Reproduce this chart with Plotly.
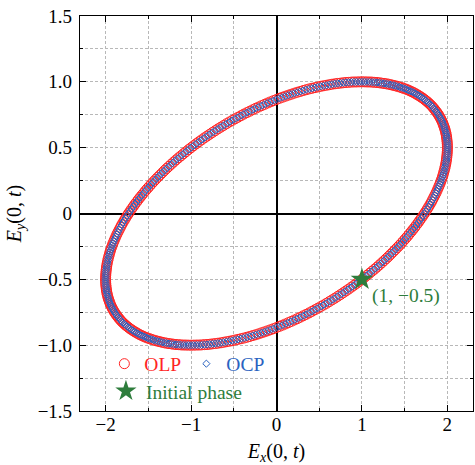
import plotly.graph_objects as go

ex_vals = [
    2.000, 2.000, 1.999, 1.997, 1.995, 1.992, 1.989, 1.985, 1.981, 1.975,
    1.970, 1.963, 1.956, 1.949, 1.941, 1.932, 1.923, 1.913, 1.902, 1.891,
    1.879, 1.867, 1.854, 1.841, 1.827, 1.813, 1.798, 1.782, 1.766, 1.749,
    1.732, 1.714, 1.696, 1.677, 1.658, 1.638, 1.618, 1.597, 1.576, 1.554,
    1.532, 1.509, 1.486, 1.463, 1.439, 1.414, 1.389, 1.364, 1.338, 1.312,
    1.286, 1.259, 1.231, 1.204, 1.176, 1.147, 1.118, 1.089, 1.060, 1.030,
    1.000, 0.970, 0.939, 0.908, 0.877, 0.845, 0.813, 0.781, 0.749, 0.717,
    0.684, 0.651, 0.618, 0.585, 0.551, 0.518, 0.484, 0.450, 0.416, 0.382,
    0.347, 0.313, 0.278, 0.244, 0.209, 0.174, 0.140, 0.105, 0.070, 0.035,
    0.000,
    -0.035, -0.070, -0.105, -0.140, -0.174, -0.209, -0.244, -0.278, -0.313, -0.347,
    -0.382, -0.416, -0.450, -0.484, -0.518, -0.551, -0.585, -0.618, -0.651, -0.684,
    -0.717, -0.749, -0.781, -0.813, -0.845, -0.877, -0.908, -0.939, -0.970, -1.000,
    -1.030, -1.060, -1.089, -1.118, -1.147, -1.176, -1.204, -1.231, -1.259, -1.286,
    -1.312, -1.338, -1.364, -1.389, -1.414, -1.439, -1.463, -1.486, -1.509, -1.532,
    -1.554, -1.576, -1.597, -1.618, -1.638, -1.658, -1.677, -1.696, -1.714, -1.732,
    -1.749, -1.766, -1.782, -1.798, -1.813, -1.827, -1.841, -1.854, -1.867, -1.879,
    -1.891, -1.902, -1.913, -1.923, -1.932, -1.941, -1.949, -1.956, -1.963, -1.970,
    -1.975, -1.981, -1.985, -1.989, -1.992, -1.995, -1.997, -1.999, -2.000, -2.000,
    -2.000, -1.999, -1.997, -1.995, -1.992, -1.989, -1.985, -1.981, -1.975, -1.970,
    -1.963, -1.956, -1.949, -1.941, -1.932, -1.923, -1.913, -1.902, -1.891, -1.879,
    -1.867, -1.854, -1.841, -1.827, -1.813, -1.798, -1.782, -1.766, -1.749, -1.732,
    -1.714, -1.696, -1.677, -1.658, -1.638, -1.618, -1.597, -1.576, -1.554, -1.532,
    -1.509, -1.486, -1.463, -1.439, -1.414, -1.389, -1.364, -1.338, -1.312, -1.286,
    -1.259, -1.231, -1.204, -1.176, -1.147, -1.118, -1.089, -1.060, -1.030, -1.000,
    -0.970, -0.939, -0.908, -0.877, -0.845, -0.813, -0.781, -0.749, -0.717, -0.684,
    -0.651, -0.618, -0.585, -0.551, -0.518, -0.484, -0.450, -0.416, -0.382, -0.347,
    -0.313, -0.278, -0.244, -0.209, -0.174, -0.140, -0.105, -0.070, -0.035, 0.000,
    0.035, 0.070, 0.105, 0.140, 0.174, 0.209, 0.244, 0.278, 0.313, 0.347,
    0.382, 0.416, 0.450, 0.484, 0.518, 0.551, 0.585, 0.618, 0.651, 0.684,
    0.717, 0.749, 0.781, 0.813, 0.845, 0.877, 0.908, 0.939, 0.970, 1.000,
    1.030, 1.060, 1.089, 1.118, 1.147, 1.176, 1.204, 1.231, 1.259, 1.286,
    1.312, 1.338, 1.364, 1.389, 1.414, 1.439, 1.463, 1.486, 1.509, 1.532,
    1.554, 1.576, 1.597, 1.618, 1.638, 1.658, 1.677, 1.696, 1.714, 1.732,
    1.749, 1.766, 1.782, 1.798, 1.813, 1.827, 1.841, 1.854, 1.867, 1.879,
    1.891, 1.902, 1.913, 1.923, 1.932, 1.941, 1.949, 1.956, 1.963, 1.970,
    1.975, 1.981, 1.985, 1.989, 1.992, 1.995, 1.997, 1.999, 2.000,
]

ey_vals = [
    0.500, 0.515, 0.530, 0.545, 0.559, 0.574, 0.588, 0.602, 0.616, 0.629,
    0.643, 0.656, 0.669, 0.682, 0.695, 0.707, 0.719, 0.731, 0.743, 0.755,
    0.766, 0.777, 0.788, 0.799, 0.809, 0.819, 0.829, 0.839, 0.848, 0.857,
    0.866, 0.875, 0.883, 0.891, 0.899, 0.906, 0.914, 0.921, 0.927, 0.934,
    0.940, 0.946, 0.951, 0.956, 0.961, 0.966, 0.970, 0.974, 0.978, 0.982,
    0.985, 0.988, 0.990, 0.993, 0.995, 0.996, 0.998, 0.999, 0.999, 1.000,
    1.000, 1.000, 0.999, 0.999, 0.998, 0.996, 0.995, 0.993, 0.990, 0.988,
    0.985, 0.982, 0.978, 0.974, 0.970, 0.966, 0.961, 0.956, 0.951, 0.946,
    0.940, 0.934, 0.927, 0.921, 0.914, 0.906, 0.899, 0.891, 0.883, 0.875,
    0.866, 0.857, 0.848, 0.839, 0.829, 0.819, 0.809, 0.799, 0.788, 0.777,
    0.766, 0.755, 0.743, 0.731, 0.719, 0.707, 0.695, 0.682, 0.669, 0.656,
    0.643, 0.629, 0.616, 0.602, 0.588, 0.574, 0.559, 0.545, 0.530, 0.515,
    0.500, 0.485, 0.469, 0.454, 0.438, 0.423, 0.407, 0.391, 0.375, 0.358,
    0.342, 0.326, 0.309, 0.292, 0.276, 0.259, 0.242, 0.225, 0.208, 0.191,
    0.174, 0.156, 0.139, 0.122, 0.105, 0.087, 0.070, 0.052, 0.035, 0.017,
    0.000,
    -0.017, -0.035, -0.052, -0.070, -0.087, -0.105, -0.122, -0.139, -0.156,
    -0.174, -0.191, -0.208, -0.225, -0.242, -0.259, -0.276, -0.292, -0.309, -0.326,
    -0.342, -0.358, -0.375, -0.391, -0.407, -0.423, -0.438, -0.454, -0.469, -0.485,
    -0.500, -0.515, -0.530, -0.545, -0.559, -0.574, -0.588, -0.602, -0.616, -0.629,
    -0.643, -0.656, -0.669, -0.682, -0.695, -0.707, -0.719, -0.731, -0.743, -0.755,
    -0.766, -0.777, -0.788, -0.799, -0.809, -0.819, -0.829, -0.839, -0.848, -0.857,
    -0.866, -0.875, -0.883, -0.891, -0.899, -0.906, -0.914, -0.921, -0.927, -0.934,
    -0.940, -0.946, -0.951, -0.956, -0.961, -0.966, -0.970, -0.974, -0.978, -0.982,
    -0.985, -0.988, -0.990, -0.993, -0.995, -0.996, -0.998, -0.999, -0.999, -1.000,
    -1.000,
    -1.000, -0.999, -0.999, -0.998, -0.996, -0.995, -0.993, -0.990, -0.988,
    -0.985, -0.982, -0.978, -0.974, -0.970, -0.966, -0.961, -0.956, -0.951, -0.946,
    -0.940, -0.934, -0.927, -0.921, -0.914, -0.906, -0.899, -0.891, -0.883, -0.875,
    -0.866, -0.857, -0.848, -0.839, -0.829, -0.819, -0.809, -0.799, -0.788, -0.777,
    -0.766, -0.755, -0.743, -0.731, -0.719, -0.707, -0.695, -0.682, -0.669, -0.656,
    -0.643, -0.629, -0.616, -0.602, -0.588, -0.574, -0.559, -0.545, -0.530, -0.515,
    -0.500, -0.485, -0.469, -0.454, -0.438, -0.423, -0.407, -0.391, -0.375, -0.358,
    -0.342, -0.326, -0.309, -0.292, -0.276, -0.259, -0.242, -0.225, -0.208, -0.191,
    -0.174, -0.156, -0.139, -0.122, -0.105, -0.087, -0.070, -0.052, -0.035, -0.017,
    0.000,
    0.017, 0.035, 0.052, 0.070, 0.087, 0.105, 0.122, 0.139, 0.156,
    0.174, 0.191, 0.208, 0.225, 0.242, 0.259, 0.276, 0.292, 0.309, 0.326,
    0.342, 0.358, 0.375, 0.391, 0.407, 0.423, 0.438, 0.454, 0.469, 0.485,
]

init_x = [1.0]
init_y = [-0.5]
init_label = "(1, \u22120.5)"

x_tickvals = [-2, -1, 0, 1, 2]
x_ticktext = ["\u22122", "\u22121", "0", "1", "2"]
y_tickvals = [-1.5, -1.0, -0.5, 0, 0.5, 1.0, 1.5]
y_ticktext = ["\u22121.5", "\u22121.0", "\u22120.5", "0", "0.5", "1.0", "1.5"]

RED = "#ff2424"
BLUE = "#2a62c0"
GREEN = "#2e7d3c"
FONT = "Liberation Serif"

fig = go.Figure()
fig.add_trace(go.Scatter(
    x=ex_vals, y=ey_vals, mode="markers",
    name=f"<span style='color:{RED}'>OLP</span>",
    marker=dict(symbol="circle-open", size=10, color=RED, line=dict(width=1)),
    legend="legend",
))
fig.add_trace(go.Scatter(
    x=ex_vals, y=ey_vals, mode="markers",
    name=f"<span style='color:{BLUE}'>OCP</span>",
    marker=dict(symbol="diamond-open", size=5.5, color=BLUE, line=dict(width=1.0)),
    legend="legend",
))
fig.add_trace(go.Scatter(
    x=init_x, y=init_y, mode="markers",
    name=f"<span style='color:{GREEN}'>Initial phase</span>",
    marker=dict(symbol="star", size=17, color=GREEN, line=dict(width=0)),
    legend="legend2",
))

fig.add_annotation(
    x=1.1, y=-0.63, text=init_label, showarrow=False,
    xanchor="left", yanchor="middle",
    font=dict(family=FONT, size=19.5, color=GREEN),
)

axis_common = dict(
    showline=True, linecolor="black", linewidth=1.2, mirror="ticks",
    ticks="inside", ticklen=6, tickwidth=1.1, tickcolor="black",
    showgrid=True, gridcolor="#b8b8b8", gridwidth=1, griddash="3px,2px",
    zeroline=True, zerolinecolor="black", zerolinewidth=1.6,
    tickfont=dict(family=FONT, size=19, color="black"),
    ticklabeloverflow="allow",
)

fig.update_xaxes(
    **axis_common,
    range=[-2.3, 2.3], tickmode="array", tickvals=x_tickvals, ticktext=x_ticktext,
    minor=dict(dtick=0.5, tick0=0, ticks="inside", ticklen=3, tickcolor="black",
               showgrid=True, gridcolor="#b8b8b8", griddash="3px,2px", gridwidth=1),
    title=dict(text="<i>E</i><sub><i>x</i></sub>(0, <i>t</i>)",
               font=dict(family=FONT, size=20, color="black"), standoff=22),
    ticklabelstandoff=-4,
)
fig.update_yaxes(
    **axis_common,
    range=[-1.5, 1.5], tickmode="array", tickvals=y_tickvals, ticktext=y_ticktext,
    minor=dict(dtick=0.25, tick0=0, ticks="inside", ticklen=3, tickcolor="black",
               showgrid=True, gridcolor="#b8b8b8", griddash="3px,2px", gridwidth=1),
    title=dict(text="<i>E</i><sub><i>y</i></sub>(0, <i>t</i>)",
               font=dict(family=FONT, size=20, color="black"), standoff=10),
    ticklabelstandoff=3,
)

fig.update_layout(
    width=475, height=465,
    margin=dict(l=80, r=2, t=16, b=54, autoexpand=False),
    plot_bgcolor="white", paper_bgcolor="white",
    font=dict(family=FONT, size=19.5, color="black"),
    legend=dict(orientation="h", x=0.062, y=0.119, xanchor="left", yanchor="middle",
                bgcolor="rgba(255,255,255,0)", font=dict(family=FONT, size=19.5),
                itemsizing="trace"),
    legend2=dict(orientation="h", x=0.066, y=0.05, xanchor="left", yanchor="middle",
                 bgcolor="rgba(255,255,255,0)", font=dict(family=FONT, size=19.5),
                 itemsizing="trace"),
    showlegend=True,
)

fig.write_html("out.html", config={"displayModeBar": False},
               post_script="document.body.style.margin='0';")
